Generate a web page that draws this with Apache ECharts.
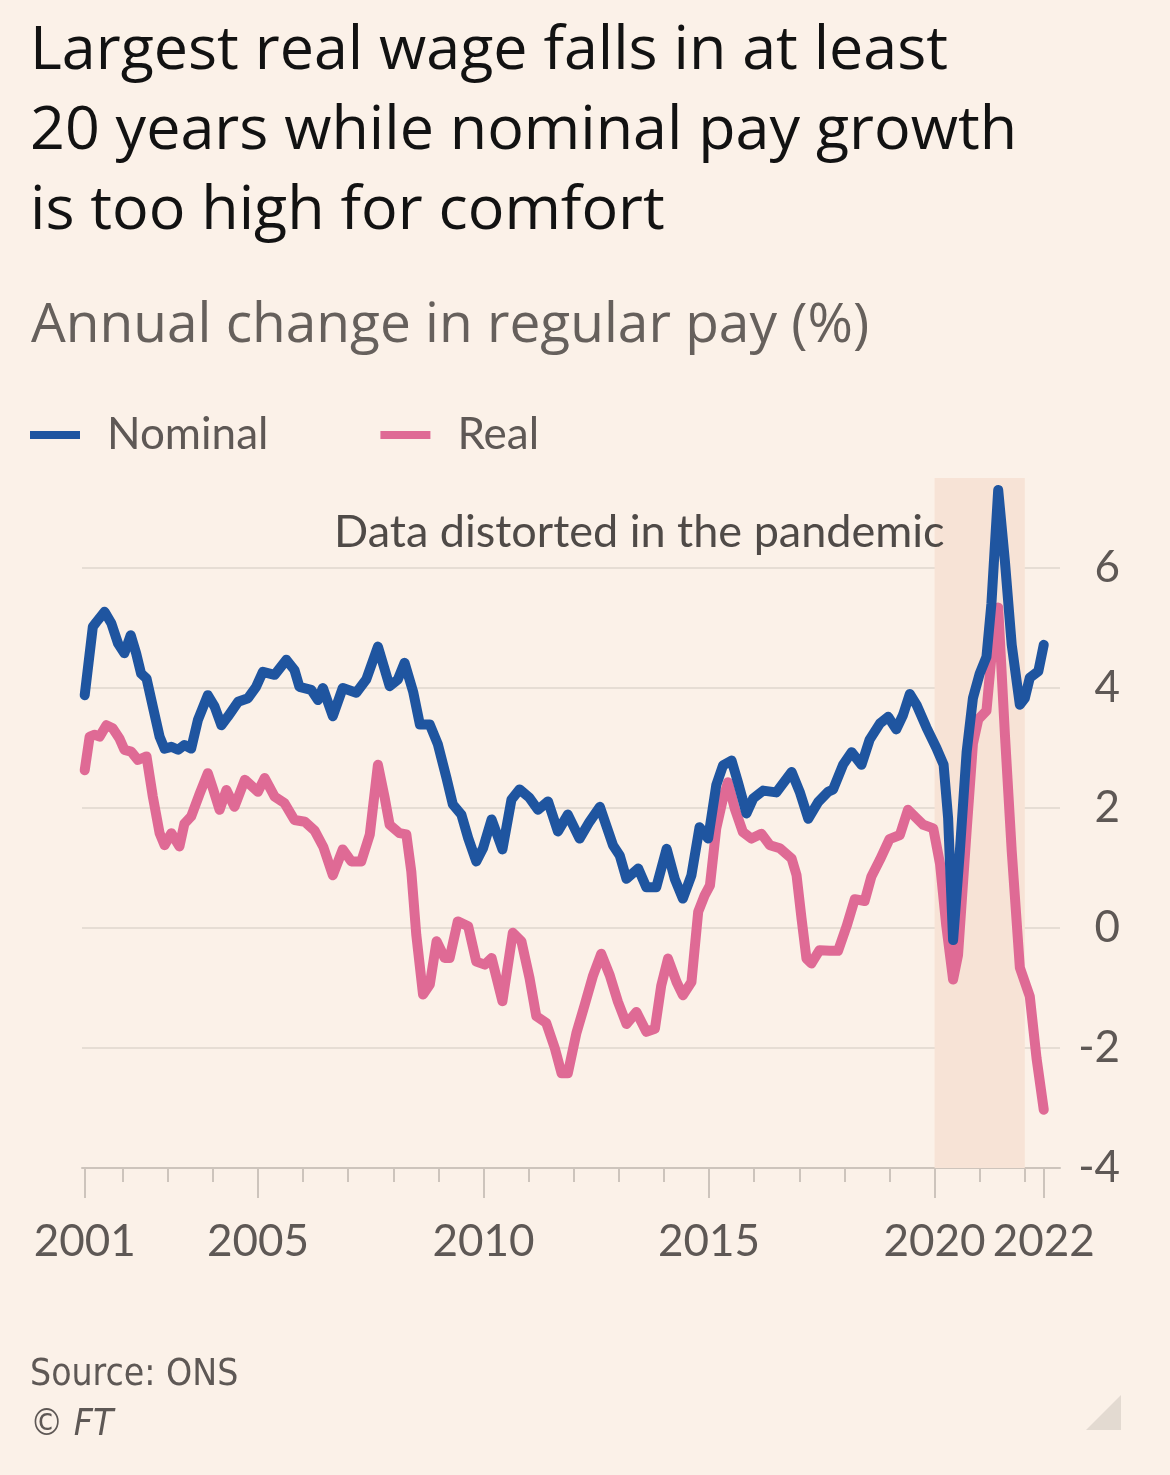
<!DOCTYPE html>
<html>
<head>
<meta charset="utf-8">
<script src="https://cdn.jsdelivr.net/npm/echarts@6/dist/echarts.min.js"></script>
<style>
html,body{margin:0;padding:0;background:#fbf1e8;}
#chart{width:1170px;height:1475px;}
</style>
</head>
<body>
<div id="chart"></div>
<script>
// ---- Data (decimal years, annual % change in regular pay) ----
const nominalYears = [2001.16,2001.34,2001.42,2001.60,2001.75,2001.90,2002.04,2002.18,2002.30,2002.41,2002.53,2002.67,2002.82,2002.93,2003.08,2003.23,2003.37,2003.52,2003.67,2003.89,2004.04,2004.19,2004.33,2004.56,2004.78,2004.96,2005.11,2005.37,2005.63,2005.81,2005.92,2006.18,2006.33,2006.44,2006.66,2006.88,2007.18,2007.40,2007.66,2007.92,2008.10,2008.25,2008.44,2008.59,2008.81,2008.99,2009.18,2009.32,2009.51,2009.66,2009.84,2009.99,2010.18,2010.42,2010.62,2010.80,2011.02,2011.21,2011.43,2011.65,2011.87,2012.13,2012.35,2012.58,2012.87,2013.02,2013.17,2013.43,2013.61,2013.83,2014.06,2014.24,2014.42,2014.61,2014.79,2014.98,2015.16,2015.31,2015.50,2015.64,2015.83,2015.98,2016.20,2016.49,2016.83,2017.01,2017.20,2017.42,2017.64,2017.75,2017.97,2018.16,2018.38,2018.56,2018.79,2018.97,2019.15,2019.30,2019.45,2019.60,2019.82,2020.04,2020.20,2020.30,2020.41,2020.56,2020.71,2020.85,2021.00,2021.15,2021.26,2021.41,2021.56,2021.71,2021.89,2022.00,2022.11,2022.30,2022.42];
const nominalValues = [3.88,5.02,5.10,5.27,5.08,4.74,4.58,4.88,4.58,4.24,4.16,3.69,3.19,2.99,3.02,2.97,3.05,2.99,3.47,3.88,3.69,3.38,3.52,3.77,3.83,4.02,4.27,4.22,4.47,4.30,4.02,3.97,3.80,4.00,3.53,4.00,3.92,4.14,4.69,4.03,4.14,4.42,3.94,3.39,3.39,3.06,2.50,2.06,1.89,1.50,1.11,1.33,1.81,1.31,2.14,2.31,2.17,1.97,2.11,1.61,1.89,1.49,1.77,2.02,1.38,1.21,0.82,0.99,0.68,0.68,1.32,0.82,0.49,0.88,1.68,1.49,2.38,2.71,2.79,2.43,1.91,2.16,2.29,2.26,2.60,2.27,1.82,2.10,2.27,2.31,2.72,2.93,2.72,3.14,3.41,3.52,3.31,3.55,3.90,3.72,3.34,3.00,2.72,1.83,-0.20,1.28,2.93,3.83,4.24,4.52,5.41,7.30,6.10,4.72,3.72,3.83,4.17,4.28,4.72];

const realYears = [2001.16,2001.27,2001.38,2001.49,2001.64,2001.78,2001.93,2002.04,2002.19,2002.34,2002.53,2002.67,2002.82,2002.93,2003.08,2003.26,2003.37,2003.52,2003.71,2003.89,2004.00,2004.15,2004.30,2004.48,2004.71,2005.00,2005.15,2005.37,2005.59,2005.81,2006.04,2006.26,2006.45,2006.66,2006.88,2007.07,2007.29,2007.48,2007.66,2007.81,2007.92,2008.14,2008.29,2008.40,2008.51,2008.66,2008.81,2008.96,2009.14,2009.25,2009.43,2009.66,2009.84,2010.03,2010.18,2010.42,2010.65,2010.84,2011.02,2011.17,2011.39,2011.58,2011.73,2011.87,2012.06,2012.24,2012.43,2012.61,2012.80,2012.98,2013.17,2013.39,2013.61,2013.80,2013.94,2014.09,2014.28,2014.42,2014.61,2014.76,2014.90,2015.02,2015.16,2015.31,2015.42,2015.57,2015.75,2015.94,2016.16,2016.35,2016.57,2016.83,2016.94,2017.05,2017.16,2017.27,2017.45,2017.68,2017.86,2018.05,2018.23,2018.45,2018.60,2018.79,2019.00,2019.23,2019.41,2019.60,2019.75,2019.97,2020.12,2020.26,2020.41,2020.52,2020.71,2020.85,2020.97,2021.15,2021.26,2021.41,2021.56,2021.71,2021.89,2022.11,2022.26,2022.42];
const realValues = [2.63,3.19,3.22,3.19,3.38,3.33,3.16,2.97,2.94,2.80,2.86,2.19,1.58,1.38,1.58,1.36,1.74,1.86,2.24,2.58,2.33,1.97,2.30,2.02,2.47,2.27,2.50,2.19,2.08,1.80,1.77,1.62,1.35,0.88,1.31,1.11,1.11,1.56,2.72,2.17,1.72,1.58,1.56,0.94,-0.11,-1.11,-0.94,-0.22,-0.50,-0.50,0.11,0.03,-0.56,-0.61,-0.50,-1.22,-0.08,-0.22,-0.83,-1.47,-1.58,-2.00,-2.42,-2.42,-1.75,-1.29,-0.79,-0.43,-0.79,-1.23,-1.60,-1.40,-1.73,-1.68,-0.96,-0.51,-0.90,-1.12,-0.90,0.27,0.54,0.71,1.66,2.16,2.43,1.99,1.60,1.49,1.57,1.38,1.33,1.16,0.88,0.16,-0.51,-0.59,-0.37,-0.38,-0.38,0.03,0.48,0.45,0.86,1.14,1.48,1.55,1.97,1.83,1.72,1.66,1.07,0.03,-0.86,-0.45,1.62,3.07,3.48,3.62,4.52,5.34,3.21,1.28,-0.66,-1.14,-2.17,-3.03];

const yTicks = [-4, -2, 0, 2, 4, 6];
const majorTickYears = [2005, 2010, 2015, 2020];
const minorTickYears = [2002,2003,2004,2005,2006,2007,2008,2009,2010,2011,2012,2013,2014,2015,2016,2017,2018,2019,2020,2021,2022];
const pandemicPeriod = [2020, 2022];
const seriesNames = ['Nominal', 'Real'];

// ---- Build chart ----
const firstYear = nominalYears[0];
const lastYear = nominalYears[nominalYears.length - 1];
const labelYears = [firstYear].concat(majorTickYears, [lastYear]);

const BLUE = '#1f55a0';
const PINK = '#df6a95';
const TEXT = '#5e5855';
const FONT = 'Lato, "Noto Sans", sans-serif';
const HEAD_FONT = '"Open Sans", Lato, sans-serif';
const NARROW = '"Liberation Sans Narrow", "DejaVu Sans Condensed", sans-serif';

const chart = echarts.init(document.getElementById('chart'), null, {renderer: 'canvas'});

const xCommon = {
  type: 'value', min: 2001.1, max: 2022.78, position: 'bottom', gridIndex: 0,
  splitLine: {show: false}
};

chart.setOption({
  backgroundColor: '#fbf1e8',
  animation: false,
  title: [
    {
      text: 'Largest real wage falls in at least\n20 years while nominal pay growth\nis too high for comfort',
      left: 30, top: 12, padding: 0,
      textStyle: {fontFamily: HEAD_FONT, fontSize: 61, fontWeight: 'normal', color: '#121212', lineHeight: 80}
    },
    {
      text: 'Annual change in regular pay (%)',
      left: 31, top: 296, padding: 0,
      textStyle: {fontFamily: HEAD_FONT, fontSize: 55, fontWeight: 'normal', color: '#66605c', lineHeight: 60}
    },
    {
      text: 'Source: ONS\n{i|© FT}',
      left: 30, top: 1350, padding: 0,
      textStyle: {
        fontFamily: NARROW,
        fontSize: 37, fontWeight: 'normal', color: '#5e5855', lineHeight: 50,
        rich: {i: {fontStyle: 'italic', fontSize: 37, color: '#5e5855', fontFamily: NARROW}}
      }
    }
  ],
  legend: {
    left: 30, top: 410, padding: 0,
    icon: 'rect', itemWidth: 50, itemHeight: 8, itemGap: 112,
    data: seriesNames,
    textStyle: {fontFamily: FONT, fontSize: 44, color: TEXT, padding: [0, 0, 0, 22], lineHeight: 50}
  },
  grid: {left: 82, right: 110, top: 478, bottom: 307, containLabel: false},
  xAxis: [
    Object.assign({}, xCommon, {
      axisLine: {show: true, onZero: false, lineStyle: {color: '#cdc4bc', width: 2}},
      axisTick: {show: true, length: 30, lineStyle: {color: '#cdc4bc', width: 2}, customValues: labelYears},
      axisLabel: {
        show: true, customValues: labelYears, margin: 52,
        fontFamily: FONT, fontSize: 44, color: TEXT,
        formatter: v => String(Math.floor(v))
      }
    }),
    Object.assign({}, xCommon, {
      axisLine: {show: false, onZero: false},
      axisTick: {show: true, length: 14, lineStyle: {color: '#cdc4bc', width: 2}, customValues: minorTickYears},
      axisLabel: {show: false}
    })
  ],
  yAxis: {
    type: 'value', min: -4, max: 7.5, position: 'right',
    axisLine: {show: false},
    axisTick: {show: false, customValues: yTicks},
    axisLabel: {
      customValues: yTicks, align: 'right', margin: 60,
      fontFamily: FONT, fontSize: 44, color: TEXT, padding: [8, 0, 0, 0]
    },
    splitLine: {show: true, lineStyle: {color: '#e6ddd4', width: 2}}
  },
  series: [
    {
      name: seriesNames[0], type: 'line', xAxisIndex: 0,
      data: nominalYears.map((t, i) => [t, nominalValues[i]]),
      showSymbol: false, z: 3,
      lineStyle: {color: BLUE, width: 10, cap: 'round', join: 'round'},
      itemStyle: {color: BLUE},
      markArea: {
        silent: true,
        itemStyle: {color: '#f7e3d6'},
        label: {
          show: true, position: [10, 54], align: 'right', verticalAlign: 'middle',
          fontFamily: FONT, fontSize: 45, color: '#4f4a47'
        },
        data: [[{xAxis: pandemicPeriod[0], name: 'Data distorted in the pandemic'}, {xAxis: pandemicPeriod[1]}]]
      }
    },
    {
      name: seriesNames[1], type: 'line', xAxisIndex: 0,
      data: realYears.map((t, i) => [t, realValues[i]]),
      showSymbol: false, z: 2,
      lineStyle: {color: PINK, width: 10, cap: 'round', join: 'round'},
      itemStyle: {color: PINK}
    }
  ],
  graphic: [{
    type: 'polygon', silent: true,
    shape: {points: [[1086, 1430], [1121, 1430], [1121, 1395]]},
    style: {fill: '#e3dad1'}
  }]
});
</script>
</body>
</html>
